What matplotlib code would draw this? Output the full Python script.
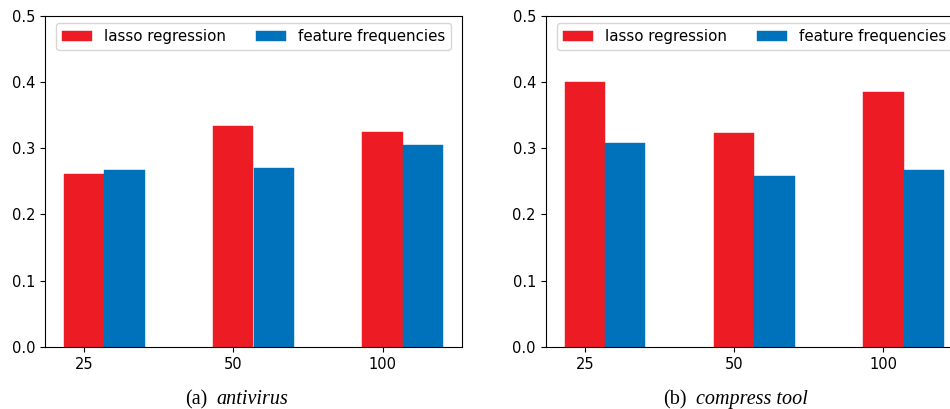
import numpy as np
import matplotlib
matplotlib.use("Agg")
import matplotlib.pyplot as plt

categories = ["25", "50", "100"]
antivirus_lasso = [0.261, 0.333, 0.324]
antivirus_freq = [0.267, 0.270, 0.305]
compress_lasso = [0.400, 0.323, 0.385]
compress_freq = [0.308, 0.258, 0.267]
series_labels = ["lasso regression", "feature frequencies"]
captions = [("(a)", "antivirus"), ("(b)", "compress tool")]

RED = "#ED1C24"
BLUE = "#0071BB"

plt.rcParams["font.family"] = ["DejaVu Sans"]
plt.rcParams["font.size"] = 10.5

W, H = 950, 409
fig = plt.figure(figsize=(W / 100, H / 100), dpi=100)

def axrect(x0, x1, y0, y1):
    return [x0 / W, (H - y1) / H, (x1 - x0) / W, (y1 - y0) / H]

ax1 = fig.add_axes(axrect(45, 462, 15.7, 347))
ax2 = fig.add_axes(axrect(545.7, 962.8, 15.7, 347))

width = 0.27
x = np.arange(len(categories))
for ax, lasso, freq in [(ax1, antivirus_lasso, antivirus_freq),
                        (ax2, compress_lasso, compress_freq)]:
    ax.bar(x, lasso, width, color=RED, edgecolor=RED, linewidth=0.3,
           label=series_labels[0])
    ax.bar(x + width, freq, width, color=BLUE, edgecolor=BLUE, linewidth=0.3,
           label=series_labels[1])
    ax.set_xticks(x)
    ax.set_xticklabels(categories)
    ax.set_ylim(0, 0.5)
    ax.set_yticks([0.0, 0.1, 0.2, 0.3, 0.4, 0.5])
    ax.set_yticklabels(["0.0", "0.1", "0.2", "0.3", "0.4", "0.5"])
    ax.legend(loc="upper center", ncol=2, fontsize=10.8)

serif = ["Liberation Serif", "DejaVu Serif"]
fig.canvas.draw()
for (lab, name), x0 in zip(captions, [185, 663]):
    t1 = fig.text(x0 / W, 1 - 404 / H, lab, ha="left", va="baseline",
                  family=serif, fontsize=14.5)
    fig.canvas.draw()
    bb = t1.get_window_extent()
    fig.text((bb.x1 + 9) / W, 1 - 404 / H, name, ha="left", va="baseline",
             family=serif, fontsize=14.5, style="italic")

fig.savefig("out.png", dpi=100)
